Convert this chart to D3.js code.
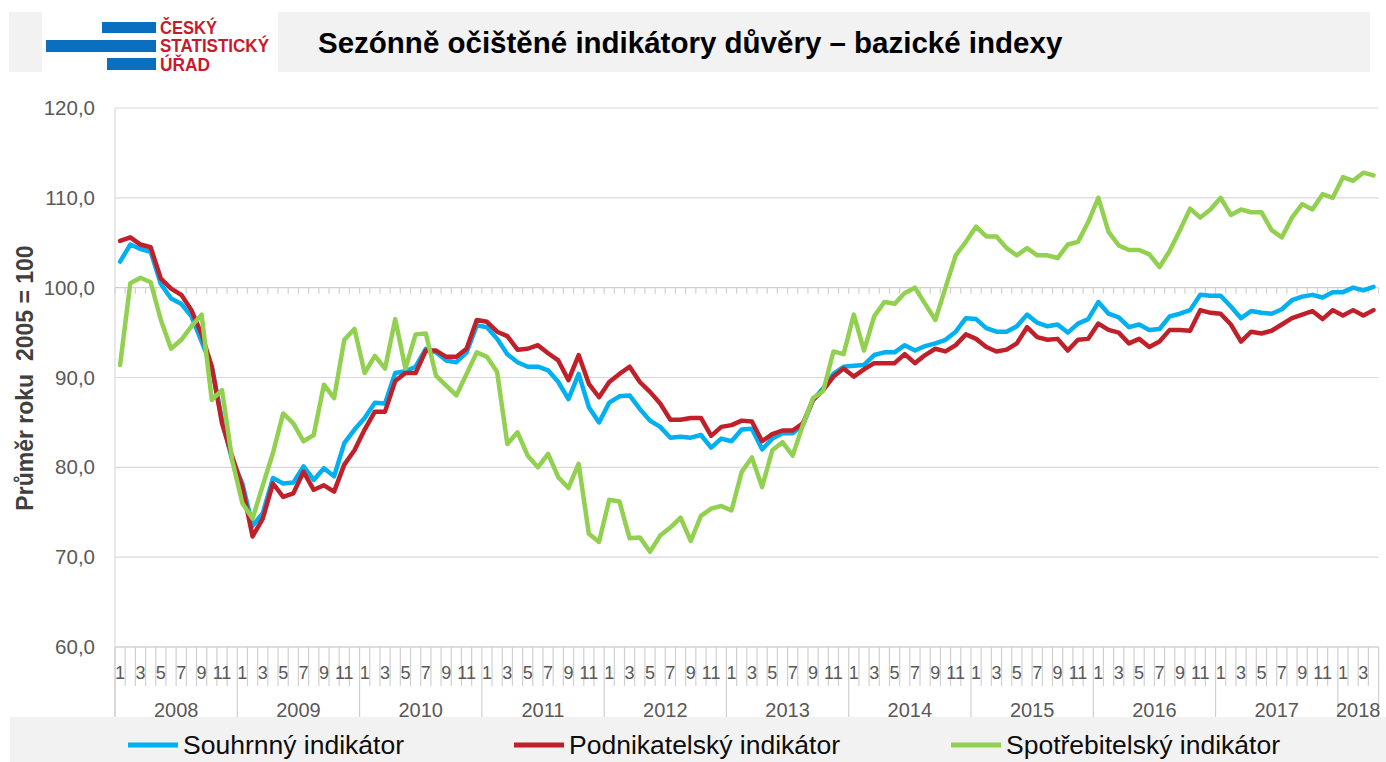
<!DOCTYPE html>
<html>
<head>
<meta charset="utf-8">
<script src="https://cdn.jsdelivr.net/npm/d3@7"></script>
<style>
  body { margin: 0; background: #fff; }
  svg { display: block; font-family: "Liberation Sans", Arial, sans-serif; }
</style>
</head>
<body>
<div id="chart"></div>
<script>
// data (months Jan 2008 - Apr 2018)
const years = [2008, 2009, 2010, 2011, 2012, 2013, 2014, 2015, 2016, 2017, 2018];
const monthLabels = ["1", "", "3", "", "5", "", "7", "", "9", "", "11", ""];
const monthCount = 124;
const yTicks = [60, 70, 80, 90, 100, 110, 120];

const souhrnny = [
  102.9, 104.8, 104.3, 104.0, 100.4, 98.8, 98.2, 96.8, 94.0, 91.2, 85.3, 80.8,
  78.2, 73.5, 74.9, 78.8, 78.2, 78.3, 80.1, 78.6, 79.9, 79.0, 82.7, 84.2,
  85.5, 87.2, 87.1, 90.5, 90.7, 91.2, 93.2, 92.8, 91.9, 91.7, 92.8, 95.8,
  95.6, 94.3, 92.6, 91.7, 91.2, 91.2, 90.8, 89.5, 87.6, 90.4, 86.7, 85.0,
  87.2, 87.9, 88.0, 86.5, 85.2, 84.5, 83.3, 83.4, 83.3, 83.6, 82.2, 83.2,
  82.9, 84.2, 84.3, 82.0, 83.2, 83.8, 83.8, 84.7, 87.5, 88.8, 90.4, 91.2,
  91.3, 91.4, 92.5, 92.8, 92.8, 93.6, 93.0, 93.5, 93.8, 94.2, 95.1, 96.6,
  96.5, 95.5, 95.1, 95.1, 95.7, 97.0, 96.1, 95.7, 95.9, 95.0, 96.0, 96.5,
  98.4, 97.1, 96.7, 95.6, 95.9, 95.3, 95.4, 96.8, 97.1, 97.5, 99.2, 99.1,
  99.1, 97.9, 96.6, 97.4, 97.2, 97.1, 97.6, 98.6, 99.0, 99.2, 98.9, 99.5,
  99.5, 100.0, 99.7, 100.1
];
const podnikatelsky = [
  105.2, 105.6, 104.8, 104.5, 101.0, 99.9, 99.2, 97.5, 94.8, 91.2, 84.9, 81.2,
  77.8, 72.3, 74.3, 78.2, 76.7, 77.1, 79.5, 77.5, 78.0, 77.3, 80.3, 81.9,
  84.2, 86.2, 86.2, 89.6, 90.5, 90.5, 93.0, 93.0, 92.3, 92.3, 93.2, 96.4,
  96.2, 95.1, 94.6, 93.1, 93.2, 93.6, 92.7, 91.9, 89.7, 92.5, 89.3, 87.8,
  89.5, 90.4, 91.2, 89.5, 88.4, 87.1, 85.3, 85.3, 85.5, 85.5, 83.5, 84.5,
  84.7, 85.2, 85.1, 82.9, 83.7, 84.1, 84.1, 84.9, 87.5, 88.6, 90.1, 91.0,
  90.1, 90.9, 91.6, 91.6, 91.6, 92.6, 91.6, 92.5, 93.2, 92.9, 93.6, 94.8,
  94.3, 93.4, 92.9, 93.1, 93.8, 95.6, 94.5, 94.2, 94.3, 93.0, 94.2, 94.3,
  96.0, 95.3, 95.0, 93.8, 94.3, 93.4, 94.0, 95.3, 95.3, 95.2, 97.5, 97.2,
  97.1, 95.9, 94.0, 95.1, 94.9, 95.2, 95.9, 96.6, 97.0, 97.4, 96.5, 97.5,
  96.9, 97.5, 96.9, 97.5
];
const spotrebitelsky = [
  91.4, 100.5, 101.1, 100.6, 96.4, 93.2, 94.2, 95.7, 97.0, 87.5, 88.6, 80.8,
  76.0, 74.3, 78.0, 81.6, 86.0, 84.9, 82.9, 83.6, 89.2, 87.7, 94.2, 95.4,
  90.5, 92.4, 91.0, 96.5, 91.0, 94.8, 94.9, 90.2, 89.1, 88.0, 90.4, 92.8,
  92.3, 90.6, 82.6, 83.9, 81.3, 80.0, 81.5, 78.9, 77.7, 80.4, 72.6, 71.7,
  76.4, 76.2, 72.1, 72.2, 70.6, 72.4, 73.3, 74.4, 71.8, 74.6, 75.4, 75.7,
  75.2, 79.5, 81.1, 77.8, 81.9, 82.8, 81.3, 84.7, 87.7, 88.5, 92.9, 92.6,
  97.0, 93.0, 96.8, 98.4, 98.2, 99.4, 100.0, 98.2, 96.4, 100.0, 103.6, 105.1,
  106.8, 105.7, 105.7, 104.4, 103.6, 104.4, 103.6, 103.6, 103.3, 104.8, 105.1, 107.3,
  110.0, 106.2, 104.7, 104.2, 104.2, 103.7, 102.3, 104.1, 106.4, 108.8, 107.8, 108.7,
  110.0, 108.1, 108.7, 108.4, 108.4, 106.4, 105.6, 107.8, 109.3, 108.7, 110.4, 110.0,
  112.3, 111.9, 112.8, 112.5
];

const seriesNames = ["Souhrnný indikátor", "Podnikatelský indikátor", "Spotřebitelský indikátor"];
const seriesColors = ["#00b0f0", "#c0202a", "#92d050"];
const seriesData = [souhrnny, podnikatelsky, spotrebitelsky];

// categories: month index within each year
const categories = d3.range(monthCount).map(i => ({
  year: years[Math.floor(i / 12)],
  month: i % 12
}));

const width = 1386, height = 762;
const svg = d3.select("#chart").append("svg")
  .attr("width", width)
  .attr("height", height);

// header
svg.append("rect").attr("x", 9).attr("y", 12).attr("width", 1361).attr("height", 60).attr("fill", "#f2f2f2");
svg.append("rect").attr("x", 42).attr("y", 12).attr("width", 236).attr("height", 60).attr("fill", "#fff");
const logo = svg.append("g");
logo.append("rect").attr("x", 102).attr("y", 22).attr("width", 54).attr("height", 11).attr("fill", "#0a6fbf");
logo.append("rect").attr("x", 46).attr("y", 40).attr("width", 110).attr("height", 12).attr("fill", "#0a6fbf");
logo.append("rect").attr("x", 107).attr("y", 58).attr("width", 49).attr("height", 12).attr("fill", "#0a6fbf");
[["ČESKÝ", 33.5, 57], ["STATISTICKÝ", 52, 109], ["ÚŘAD", 70.5, 50]].forEach(d => {
  logo.append("text")
    .attr("x", 160).attr("y", d[1])
    .attr("textLength", d[2]).attr("lengthAdjust", "spacingAndGlyphs")
    .style("font-size", "18px").style("font-weight", "bold")
    .attr("fill", "#c8192e")
    .text(d[0]);
});
svg.append("text")
  .attr("x", 318).attr("y", 53)
  .style("font-size", "29.5px").style("font-weight", "bold")
  .attr("fill", "#000")
  .text("Sezónně očištěné indikátory důvěry – bazické indexy");

// scales
const x = d3.scaleBand()
  .domain(d3.range(monthCount))
  .range([115, 1378.6]);
const y = d3.scaleLinear()
  .domain([60, 120])
  .range([647, 108]);
const bw = x.bandwidth();

// gridlines
svg.append("g")
  .selectAll("line")
  .data(yTicks.filter(t => t !== 100 && t !== 60))
  .enter()
  .append("line")
    .attr("x1", 115).attr("x2", 1378.6)
    .attr("y1", d => y(d)).attr("y2", d => y(d))
    .attr("stroke", "#d9d9d9").attr("stroke-width", 1.2);

// y axis
const fmt = d3.formatLocale({decimal: ",", thousands: " ", grouping: [3], currency: ["", ""]}).format(".1f");
const yAxis = svg.append("g")
  .attr("transform", "translate(115,0)")
  .call(d3.axisLeft(y).tickValues(yTicks).tickSize(0).tickPadding(20).tickFormat(fmt));
yAxis.select(".domain").remove();
yAxis.selectAll("text")
  .style("font-size", "20.5px")
  .style("font-family", "'Liberation Sans', Arial, sans-serif")
  .attr("fill", "#595959");

svg.append("line")
  .attr("x1", 115).attr("x2", 115).attr("y1", 108).attr("y2", 717)
  .attr("stroke", "#d9d9d9").attr("stroke-width", 1.2);

// horizontal axis crossing at 100 with month ticks
const boundaries = d3.range(monthCount + 1).map(j => j === monthCount ? x.range()[1] : x(j));
svg.append("line")
  .attr("x1", 115).attr("x2", 1378.6)
  .attr("y1", y(100)).attr("y2", y(100))
  .attr("stroke", "#d0d0d0").attr("stroke-width", 1.4);
svg.append("g")
  .selectAll("line")
  .data(boundaries)
  .enter()
  .append("line")
    .attr("x1", d => d).attr("x2", d => d)
    .attr("y1", y(100)).attr("y2", y(100) + 6)
    .attr("stroke", "#d0d0d0").attr("stroke-width", 1.2);

// bottom category axis
svg.append("line")
  .attr("x1", 115).attr("x2", 1378.6)
  .attr("y1", y(60)).attr("y2", y(60))
  .attr("stroke", "#d0d0d0").attr("stroke-width", 1.4);
svg.append("g")
  .selectAll("line")
  .data(boundaries)
  .enter()
  .append("line")
    .attr("x1", d => d).attr("x2", d => d)
    .attr("y1", y(60))
    .attr("y2", (d, j) => (j % 12 === 0 || j === monthCount) ? 717 : 686)
    .attr("stroke", "#d0d0d0").attr("stroke-width", 1.2);

svg.append("g")
  .selectAll("text")
  .data(categories.filter(c => monthLabels[c.month] !== ""))
  .enter()
  .append("text")
    .attr("x", (d) => x((d.year - years[0]) * 12 + d.month) + bw / 2)
    .attr("y", 679)
    .attr("text-anchor", "middle")
    .style("font-size", "18px")
    .attr("fill", "#595959")
    .text(d => monthLabels[d.month]);

svg.append("g")
  .selectAll("text")
  .data(years)
  .enter()
  .append("text")
    .attr("x", (d, k) => {
      const first = k * 12;
      const last = Math.min(first + 12, monthCount);
      return (x(first) + (last === monthCount ? x.range()[1] : x(last))) / 2;
    })
    .attr("y", 717)
    .attr("text-anchor", "middle")
    .style("font-size", "20px")
    .attr("fill", "#595959")
    .text(d => d);

// y title
svg.append("text")
  .attr("transform", "translate(33,378) rotate(-90)")
  .attr("text-anchor", "middle")
  .style("font-size", "23px").style("font-weight", "bold")
  .attr("fill", "#404040")
  .attr("xml:space", "preserve")
  .style("white-space", "pre")
  .text("Průměr roku  2005 = 100");

// lines
const line = d3.line()
  .x((d, i) => x(i) + bw / 2)
  .y(d => y(d));
seriesData.forEach((s, k) => {
  svg.append("path")
    .datum(s)
    .attr("d", line)
    .attr("fill", "none")
    .attr("stroke", seriesColors[k])
    .attr("stroke-width", 4.5)
    .attr("stroke-linejoin", "round")
    .attr("stroke-linecap", "round");
});

// legend
svg.append("rect").attr("x", 10).attr("y", 717).attr("width", 1376).attr("height", 45).attr("fill", "#f2f2f2");
const legendX = [128, 514, 951];
const legend = svg.append("g")
  .selectAll("g")
  .data(seriesNames)
  .enter()
  .append("g")
    .attr("transform", (d, k) => "translate(" + legendX[k] + ",745)");
legend.append("line")
  .attr("x1", 0).attr("x2", 50)
  .attr("stroke", (d, k) => seriesColors[k])
  .attr("stroke-width", 5);
legend.append("text")
  .attr("x", 55).attr("y", 9)
  .style("font-size", "26.5px")
  .attr("fill", "#0d0d0d")
  .text(d => d);
</script>
</body>
</html>
